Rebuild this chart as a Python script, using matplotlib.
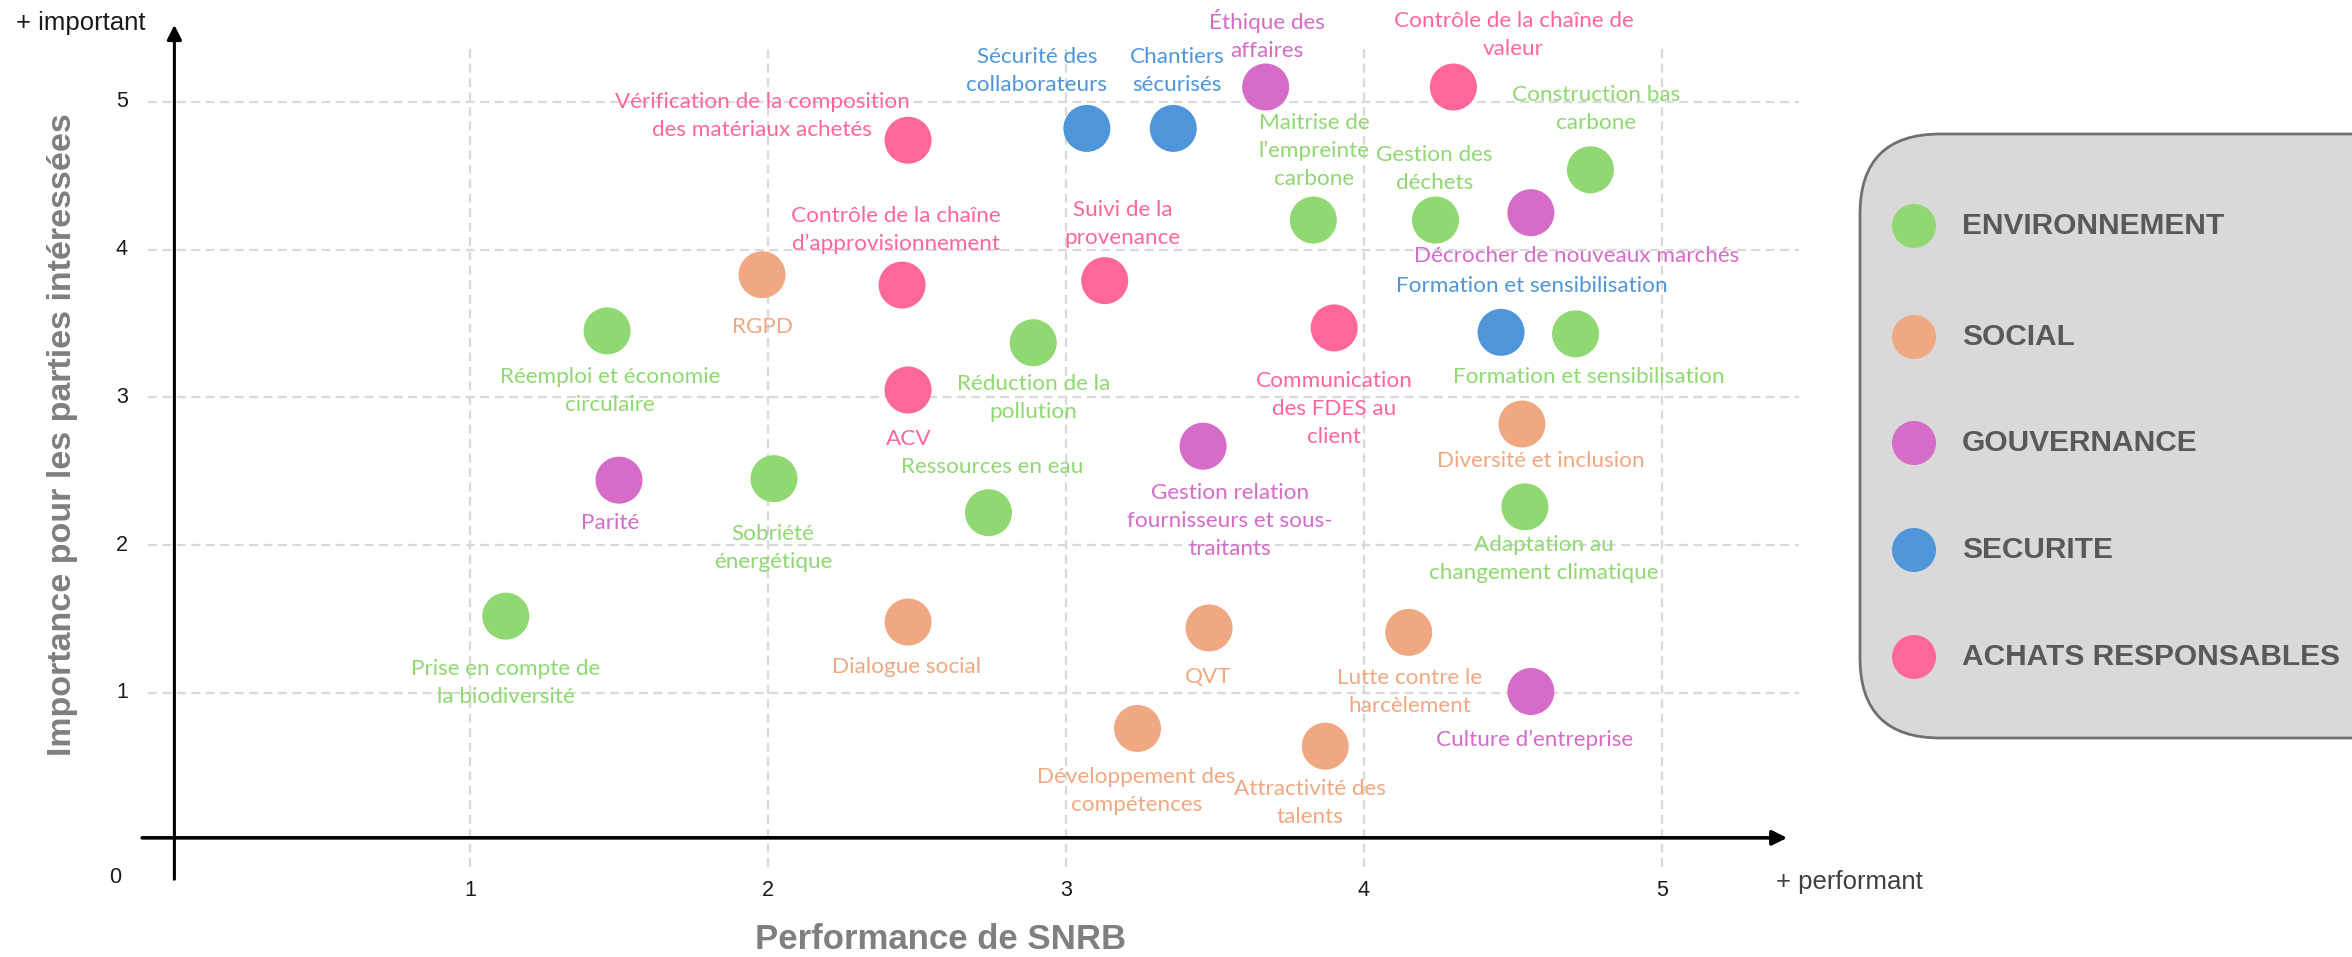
import matplotlib
matplotlib.use("Agg")
import matplotlib.pyplot as plt
from matplotlib.patches import FancyBboxPatch

# ---------------- data ----------------
categories = ["ENVIRONNEMENT", "SOCIAL", "GOUVERNANCE", "SECURITE", "ACHATS RESPONSABLES"]
cat_colors = ["#8FD872", "#F0A882", "#D46CC8", "#4F95D9", "#FF6699"]

env_labels = ["Prise en compte de\nla biodiversité", "Réemploi et économie\ncirculaire",
              "Sobriété\nénergétique", "Ressources en eau", "Réduction de la\npollution",
              "Maitrise de\nl’empreinte\ncarbone", "Gestion des\ndéchets",
              "Construction bas\ncarbone", "Formation et sensibilisation",
              "Adaptation au\nchangement climatique"]
env_x = [1.12, 1.46, 2.02, 2.74, 2.89, 3.83, 4.24, 4.76, 4.71, 4.54]
env_y = [1.52, 3.45, 2.45, 2.22, 3.37, 4.20, 4.20, 4.54, 3.43, 2.26]

soc_labels = ["RGPD", "Dialogue social", "Développement des\ncompétences", "QVT",
              "Attractivité des\ntalents", "Lutte contre le\nharcèlement", "Diversité et inclusion"]
soc_x = [1.98, 2.47, 3.24, 3.48, 3.87, 4.15, 4.53]
soc_y = [3.83, 1.48, 0.76, 1.44, 0.64, 1.41, 2.82]

gov_labels = ["Parité", "Gestion relation\nfournisseurs et sous-\ntraitants",
              "Éthique des\naffaires", "Décrocher de nouveaux marchés", "Culture d’entreprise"]
gov_x = [1.50, 3.46, 3.67, 4.56, 4.56]
gov_y = [2.44, 2.67, 5.10, 4.25, 1.01]

sec_labels = ["Sécurité des\ncollaborateurs", "Chantiers\nsécurisés", "Formation et sensibilisation"]
sec_x = [3.07, 3.36, 4.46]
sec_y = [4.82, 4.82, 3.44]

ach_labels = ["Vérification de la composition\ndes matériaux achetés",
              "Contrôle de la chaîne\nd’approvisionnement", "ACV",
              "Suivi de la\nprovenance", "Contrôle de la chaîne de\nvaleur",
              "Communication\ndes FDES au\nclient"]
ach_x = [2.47, 2.45, 2.47, 3.13, 4.30, 3.90]
ach_y = [4.74, 3.76, 3.05, 3.79, 5.10, 3.47]

x_ticks = [1, 2, 3, 4, 5]
y_ticks = [1, 2, 3, 4, 5]

# label offsets (pixels) — layout only
env_off = [(0, -67), (3, -60), (-1, -69), (4, 46), (0, -55), (1, 69), (-1, 51), (6, 61), (13, -43), (19, -52)]
soc_off = [(0, -52), (-1, -45), (-1, -63), (-1, -49), (-15, -57), (1, -60), (19, -37)]
gov_off = [(-9, -43), (27, -75), (1, 52), (46, -43), (4, -48)]
sec_off = [(-50, 57), (4, 57), (31, 46)]
ach_off = [(-146, 24), (-6, 55), (1, -49), (18, 57), (60, 52), (0, -81)]

series = [
    (env_labels, env_x, env_y, env_off),
    (soc_labels, soc_x, soc_y, soc_off),
    (gov_labels, gov_x, gov_y, gov_off),
    (sec_labels, sec_x, sec_y, sec_off),
    (ach_labels, ach_x, ach_y, ach_off),
]

# ---------------- figure ----------------
W, H, DPI = 2352, 957, 100
fig = plt.figure(figsize=(W / DPI, H / DPI), dpi=DPI)
ax = fig.add_axes([0, 0, 1, 1])
x0px, xunit = 172.0, 298.0
y0px, yunit = 840.8, 147.8
ax.set_xlim(-x0px / xunit, (W - x0px) / xunit)
ax.set_ylim((y0px - H) / yunit, y0px / yunit)
ax.axis("off")

LABEL_FONT = ["Lato", "DejaVu Sans"]
TICK_FONT = ["Liberation Sans", "DejaVu Sans"]

# grid
grid_kw = dict(color="#d9d9d9", lw=1.6, linestyle=(0, (4, 2.5)), zorder=1)
ax.vlines(x_ticks, -0.18, 5.37, **grid_kw)
ax.hlines(y_ticks, -0.08, 5.46, **grid_kw)

# axes arrows
ax.annotate("", xy=(5.42, 0.02), xytext=(-0.10, 0.02),
            arrowprops=dict(arrowstyle="-|>", lw=2.6, color="black", mutation_scale=22,
                            shrinkA=0, shrinkB=0), zorder=3)
ax.annotate("", xy=(0.008, 5.52), xytext=(0.008, -0.26),
            arrowprops=dict(arrowstyle="-|>", lw=2.2, color="black", mutation_scale=22,
                            shrinkA=0, shrinkB=0), zorder=3)

# tick labels
for t in x_ticks:
    ax.text(t, -0.333, str(t), ha="center", va="center", fontsize=15.5,
            family=TICK_FONT, color="#1a1a1a")
for t in y_ticks:
    ax.text(-0.168, t, str(t), ha="center", va="center", fontsize=15.5,
            family=TICK_FONT, color="#1a1a1a")
ax.text(-0.19, -0.25, "0", ha="center", va="center", fontsize=15.5, family=TICK_FONT, color="#1a1a1a")
ax.text(-0.305, 5.53, "+ important", ha="center", va="center", fontsize=18.5,
        family=TICK_FONT, color="#1a1a1a")
ax.text(5.63, -0.28, "+ performant", ha="center", va="center", fontsize=18.5,
        family=TICK_FONT, color="#404040")

# axis titles
ax.text(-0.369, 2.745, "Importance pour les parties intéressées", rotation=90,
        ha="center", va="center", fontsize=24.5, fontweight="bold",
        family=TICK_FONT, color="#7f7f7f")
ax.text(2.58, -0.67, "Performance de SNRB", ha="center", va="center", fontsize=25,
        fontweight="bold", family=TICK_FONT, color="#7f7f7f")

# points and labels
for (labels, xs, ys, offs), col in zip(series, cat_colors):
    ax.scatter(xs, ys, s=1145, color=col, edgecolors="none", zorder=4)
    for lab, x, y, (dx, dy) in zip(labels, xs, ys, offs):
        ax.annotate(lab, (x, y), xytext=(dx, dy), textcoords="offset pixels",
                    ha="center", va="center", multialignment="center",
                    fontsize=16.2, family=LABEL_FONT, color=col, linespacing=1.5,
                    zorder=5)

# ---------------- legend box ----------------
lx0, ly0, lw_, lh_ = 1858, 957 - 740, 560, 608
lax = fig.add_axes([lx0 / W, ly0 / H, lw_ / W, lh_ / H])
lax.set_xlim(0, lw_)
lax.set_ylim(0, lh_)
lax.axis("off")
box = FancyBboxPatch((2, 2), lw_ + 100, lh_ - 4,
                     boxstyle="round,pad=0,rounding_size=80",
                     facecolor="#d9d9d9", edgecolor="#707070", lw=2, clip_on=False)
lax.add_patch(box)
leg_y = [740 - 226, 740 - 337, 740 - 443, 740 - 550, 740 - 657]
lax.scatter([1914 - lx0] * len(categories), leg_y, s=1004, c=cat_colors,
            edgecolors="none", zorder=3)
for cat, yy in zip(categories, leg_y):
    lax.text(1962 - lx0, yy, cat, ha="left", va="center", fontsize=21.5,
             fontweight="bold", family=TICK_FONT, color="#595959")

fig.savefig("out.png", dpi=DPI)
